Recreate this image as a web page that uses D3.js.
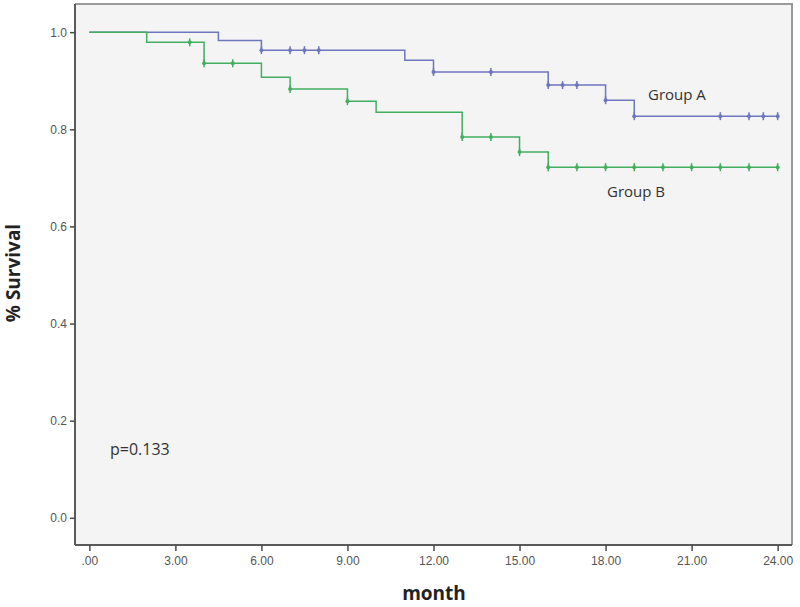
<!DOCTYPE html>
<html>
<head>
<meta charset="utf-8">
<script src="https://cdn.jsdelivr.net/npm/d3@7"></script>
<style>
  body { margin: 0; background: #fff; }
  svg { display: block; font-family: "Open Sans", "DejaVu Sans", sans-serif; }
</style>
</head>
<body>
<svg id="chart" width="800" height="607"></svg>
<script>
// Courbes de survie (Kaplan-Meier)
const timeA = [0, 4.5, 6, 11, 12, 16, 18, 19, 24];
const survA = [1.0, 0.983, 0.963, 0.942, 0.918, 0.891, 0.860, 0.827, 0.827];
const censorA = [6, 7, 7.5, 8, 12, 14, 16, 16.5, 17, 18, 19, 22, 23, 23.5, 24];

const timeB = [0, 2, 4, 6, 7, 9, 10, 13, 15, 16, 24];
const survB = [1.0, 0.979, 0.936, 0.907, 0.883, 0.858, 0.835, 0.784, 0.753, 0.722, 0.722];
const censorB = [3.5, 4, 5, 7, 9, 13, 14, 15, 16, 17, 18, 19, 20, 21, 22, 23, 24];

const xTicks = [0, 3, 6, 9, 12, 15, 18, 21, 24];
const xTickLabels = [".00", "3.00", "6.00", "9.00", "12.00", "15.00", "18.00", "21.00", "24.00"];
const yTicks = [0, 0.2, 0.4, 0.6, 0.8, 1.0];

const svg = d3.select("#chart");

const x = d3.scaleLinear().domain([-0.5, 24.5]).range([75, 792]);
const y = d3.scaleLinear().domain([-0.056, 1.058]).range([545, 4]);

// Fond de la zone de tracé
svg.append("rect")
    .attr("x", x.range()[0])
    .attr("y", y.range()[1])
    .attr("width", x.range()[1] - x.range()[0])
    .attr("height", y.range()[0] - y.range()[1])
    .attr("fill", "#f4f4f4");

// Bordures haut / droite (plus claires)
svg.append("path")
    .attr("d", `M${x.range()[0]},${y.range()[1]}H${x.range()[1]}V${y.range()[0]}`)
    .attr("fill", "none")
    .attr("stroke", "#9a9a9a")
    .attr("stroke-width", 2);

// Axes
const xAxis = svg.append("g")
    .attr("transform", `translate(0,${y.range()[0]})`)
    .call(d3.axisBottom(x).tickValues(xTicks).tickSize(6).tickPadding(5)
        .tickFormat((d, i) => xTickLabels[i]));

const yAxis = svg.append("g")
    .attr("transform", `translate(${x.range()[0]},0)`)
    .call(d3.axisLeft(y).tickValues(yTicks).tickSize(5).tickPadding(3)
        .tickFormat(d3.format(".1f")));

[xAxis, yAxis].forEach(g => {
    g.select(".domain").attr("stroke", "#5a5a5a").attr("stroke-width", 2);
    g.selectAll(".tick line").attr("stroke", "#4a4a4a").attr("stroke-width", 1.5);
    g.selectAll(".tick text").attr("fill", "#555").style("font-size", "12px");
});
xAxis.select(".domain").attr("d", `M${x.range()[0]},0H${x.range()[1]}`);
yAxis.select(".domain").attr("d", `M0,${y.range()[0]}V${y.range()[1]}`);

// Courbes en escalier
const groups = [
    { time: timeA, surv: survA, censor: censorA, color: "#6e76bd" },
    { time: timeB, surv: survB, censor: censorB, color: "#43ae60" }
];

const line = d3.line()
    .x(d => x(d[0]))
    .y(d => y(d[1]))
    .curve(d3.curveStepAfter);

groups.forEach(g => {
    const pts = g.time.map((t, i) => [t, g.surv[i]]);
    svg.append("path")
        .datum(pts)
        .attr("d", line)
        .attr("fill", "none")
        .attr("stroke", g.color)
        .attr("stroke-width", 1.5);

    // valeur de survie à un temps donné (après la chute)
    const survAt = t => {
        let s = g.surv[0];
        g.time.forEach((tt, i) => { if (tt <= t) s = g.surv[i]; });
        return s;
    };

    const marks = svg.append("g")
        .selectAll("g")
        .data(g.censor)
        .join("g")
        .attr("transform", d => `translate(${x(d)},${y(survAt(d))})`);

    marks.append("line")
        .attr("y1", -4).attr("y2", 4)
        .attr("stroke", g.color)
        .attr("stroke-width", 1.5);
    marks.append("circle")
        .attr("r", 2)
        .attr("fill", g.color);
});

// Étiquettes des groupes
svg.append("text")
    .attr("x", 648).attr("y", 100)
    .attr("fill", "#333")
    .style("font-size", "15px")
    .text("Group A");

svg.append("text")
    .attr("x", 607).attr("y", 197)
    .attr("fill", "#333")
    .style("font-size", "15px")
    .text("Group B");

svg.append("text")
    .attr("x", 110).attr("y", 455)
    .attr("fill", "#333")
    .style("font-size", "16px")
    .text("p=0.133");

// Titres des axes
svg.append("text")
    .attr("x", 434).attr("y", 600)
    .attr("text-anchor", "middle")
    .attr("fill", "#222")
    .style("font-size", "19px")
    .style("font-weight", "bold")
    .text("month");

svg.append("text")
    .attr("transform", "translate(20,273) rotate(-90)")
    .attr("text-anchor", "middle")
    .attr("fill", "#222")
    .style("font-size", "19px")
    .style("font-weight", "bold")
    .text("% Survival");
</script>
</body>
</html>
